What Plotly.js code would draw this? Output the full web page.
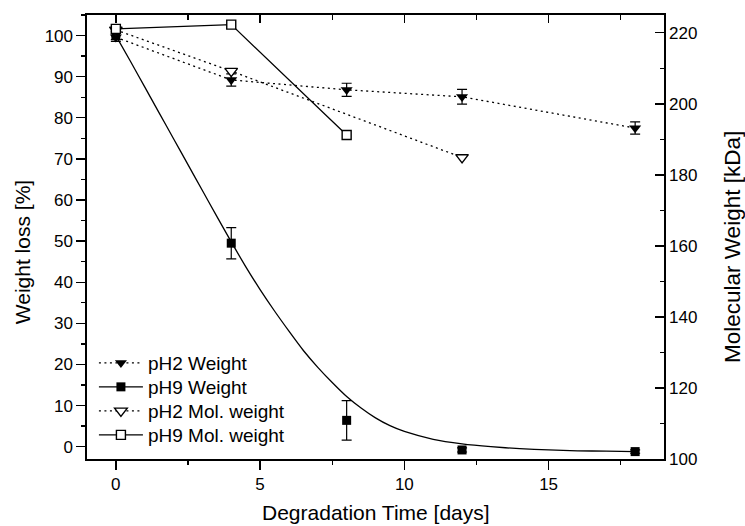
<!DOCTYPE html>
<html>
<head>
<meta charset="utf-8">
<script src="https://cdn.plot.ly/plotly-3.0.1.min.js"></script>
<style>html,body{margin:0;padding:0;background:#fff;}#chart{width:745px;height:526px;}</style>
</head>
<body>
<div id="chart"></div>
<script>
// ---- data ----
const days = [0, 4, 8, 12, 18];
const ph2Weight = [99.6, 89.2, 86.8, 85.1, 77.5];
const ph2WeightErr = [1.0, 1.5, 1.6, 1.8, 1.5];
const ph9Weight = [100, 49.5, 6.4, -0.8, -1.2];
const ph9WeightErr = [1.0, 3.8, 4.8, 0.5, 0.4];
const ph2MolDays = [0, 4, 12];
const ph2MolWeight = [220.8, 209.2, 184.9];
const ph9MolDays = [0, 4, 8];
const ph9MolWeight = [221.1, 222.3, 191.2];
// fitted curve of the pH9 weight loss
const fitDays = [0,0.5,1,1.5,2,2.5,3,3.5,4,4.5,5,5.5,6,6.5,7,7.5,8,8.5,9,9.5,10,11,12,13,14,15,16,17,18];
const ph9Fit = [100,93.8,87.5,81.2,74.9,68.6,62.3,56.0,49.8,43.8,38.2,33.0,28.1,23.4,19.3,15.6,12.2,9.4,7.0,5.1,3.7,1.8,0.7,0.0,-0.5,-0.8,-1.0,-1.1,-1.2];
const seriesNames = ['pH2 Weight', 'pH9 Weight', 'pH2 Mol. weight', 'pH9 Mol. weight'];
const xTitle = 'Degradation Time [days]';
const yTitle = 'Weight loss [%]';
const y2Title = 'Molecular Weight [kDa]';

// isolate points (gaps between them) so a lines+markers legend symbol is kept
function gapped(arr) { const out = []; arr.forEach((v, i) => { if (i) out.push(null); out.push(v); }); return out; }

const FONT = 'Liberation Sans, Arial, Helvetica, sans-serif';
const DOT = '2px,3.5px';

const traces = [
  { x: fitDays, y: ph9Fit, name: seriesNames[1] + ' fit', mode: 'lines', showlegend: false,
    line: { color: '#000', width: 1.3, shape: 'spline', smoothing: 0.6 } },
  { x: gapped(days), y: gapped(ph9Weight), name: seriesNames[1], legend: 'legend2', mode: 'lines+markers',
    connectgaps: false,
    line: { color: '#000', width: 1.3 },
    marker: { symbol: 'square', size: 9, color: '#000' },
    error_y: { type: 'data', array: gapped(ph9WeightErr), color: '#000', thickness: 1.2, width: 5 } },
  { x: days, y: ph2Weight, name: seriesNames[0], legend: 'legend', mode: 'lines+markers',
    line: { color: '#000', width: 1.3, dash: DOT },
    marker: { symbol: 'triangle-down', size: 10.5, color: '#000' },
    error_y: { type: 'data', array: ph2WeightErr, color: '#000', thickness: 1.2, width: 5 } },
  { x: ph2MolDays, y: ph2MolWeight, name: seriesNames[2], legend: 'legend3', xaxis: 'x2', yaxis: 'y2', mode: 'lines+markers',
    line: { color: '#000', width: 1.3, dash: DOT },
    marker: { symbol: 'triangle-down', size: 11, color: '#fff', line: { color: '#000', width: 1.4 } } },
  { x: ph9MolDays, y: ph9MolWeight, name: seriesNames[3], legend: 'legend4', xaxis: 'x2', yaxis: 'y2', mode: 'lines+markers',
    line: { color: '#000', width: 1.3 },
    marker: { symbol: 'square', size: 9, color: '#fff', line: { color: '#000', width: 1.4 } } }
];

const tickFont = { family: FONT, size: 17, color: '#000' };
const legendBase = { x: 0.012, xanchor: 'left', yanchor: 'middle', bgcolor: 'rgba(0,0,0,0)',
  font: { family: FONT, size: 19, color: '#000' }, itemwidth: 44, itemclick: false, itemdoubleclick: false };
function legendAt(py) { return Object.assign({}, legendBase, { y: (459 - py) / 444 }); }

const layout = {
  width: 745, height: 526,
  margin: { l: 87, r: 81, t: 15, b: 67, pad: 0 },
  paper_bgcolor: '#fff', plot_bgcolor: '#fff',
  font: { family: FONT, color: '#000' },
  showlegend: true,
  legend: legendAt(363), legend2: legendAt(387), legend3: legendAt(411), legend4: legendAt(435),
  xaxis: { range: [-1, 19], dtick: 5, tick0: 0, ticks: 'outside', ticklen: 9, tickwidth: 1.4,
    minor: { dtick: 2.5, ticks: 'outside', ticklen: 4.5, tickwidth: 1.4, tickcolor: '#000' },
    showline: true, linewidth: 1.6, linecolor: '#000', zeroline: false, showgrid: false,
    tickfont: tickFont, tickcolor: '#000' },
  xaxis2: { overlaying: 'x', side: 'top', anchor: 'y2', range: [-1, 19], dtick: 5, tick0: 0,
    ticks: 'inside', ticklen: 8, tickwidth: 1.4, tickcolor: '#000', showticklabels: false,
    minor: { dtick: 2.5, ticks: 'inside', ticklen: 4.5, tickwidth: 1.4, tickcolor: '#000' },
    showline: true, linewidth: 1.6, linecolor: '#000', zeroline: false, showgrid: false },
  yaxis: { range: [-3, 105], dtick: 10, tick0: 0, ticks: 'outside', ticklen: 9, tickwidth: 1.4,
    minor: { dtick: 5, ticks: 'outside', ticklen: 4.5, tickwidth: 1.4, tickcolor: '#000' },
    showline: true, linewidth: 1.6, linecolor: '#000', zeroline: false, showgrid: false,
    tickfont: tickFont, tickcolor: '#000' },
  yaxis2: { overlaying: 'y', side: 'right', anchor: 'x2', range: [100, 225], dtick: 20, tick0: 100,
    ticks: 'inside', ticklen: 9, tickwidth: 1.4,
    minor: { dtick: 10, ticks: 'inside', ticklen: 4.5, tickwidth: 1.4, tickcolor: '#000' },
    showline: true, linewidth: 1.6, linecolor: '#000', zeroline: false, showgrid: false,
    tickfont: tickFont, tickcolor: '#000' },
  annotations: [
    { text: xTitle, xref: 'paper', yref: 'paper', x: 0.5, y: (459 - 512) / 444, xanchor: 'center', yanchor: 'middle',
      showarrow: false, font: { family: FONT, size: 21, color: '#000' } },
    { text: yTitle, xref: 'paper', yref: 'paper', x: (22.7 - 87) / 577, y: (459 - 252.5) / 444, xanchor: 'center', yanchor: 'middle',
      textangle: -90, showarrow: false, font: { family: FONT, size: 21, color: '#000' } },
    { text: y2Title, xref: 'paper', yref: 'paper', x: (732.5 - 87) / 577, y: (459 - 247.5) / 444, xanchor: 'center', yanchor: 'middle',
      textangle: -90, showarrow: false, font: { family: FONT, size: 22.5, color: '#000' } }
  ]
};

Plotly.newPlot('chart', traces, layout, { displayModeBar: false, staticPlot: true });
</script>
</body>
</html>
